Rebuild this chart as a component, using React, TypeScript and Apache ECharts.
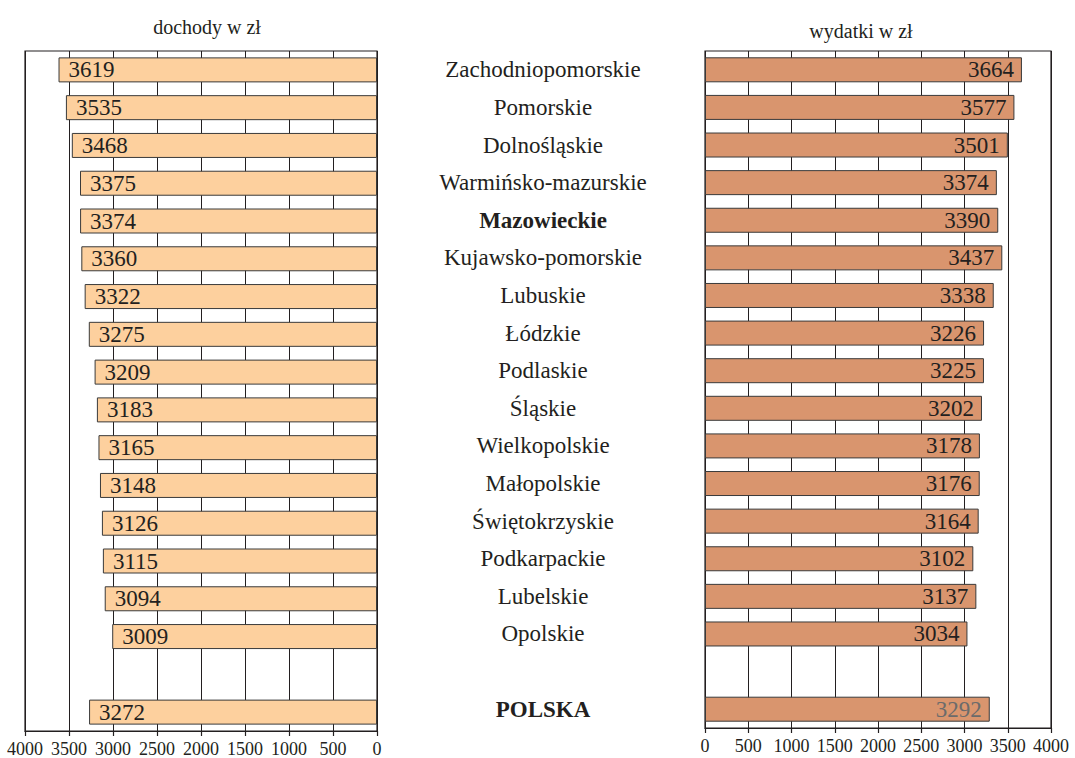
import React, { useEffect, useRef } from "react";
import * as echarts from "echarts";

const regions = [
  "Zachodniopomorskie",
  "Pomorskie",
  "Dolnośląskie",
  "Warmińsko-mazurskie",
  "Mazowieckie",
  "Kujawsko-pomorskie",
  "Lubuskie",
  "Łódzkie",
  "Podlaskie",
  "Śląskie",
  "Wielkopolskie",
  "Małopolskie",
  "Świętokrzyskie",
  "Podkarpackie",
  "Lubelskie",
  "Opolskie",
  "",
  "POLSKA",
];

const incomes = [3619, 3535, 3468, 3375, 3374, 3360, 3322, 3275, 3209, 3183, 3165, 3148, 3126, 3115, 3094, 3009, null, 3272];
const expenses = [3664, 3577, 3501, 3374, 3390, 3437, 3338, 3226, 3225, 3202, 3178, 3176, 3164, 3102, 3137, 3034, null, 3292];

const boldRegions = ["Mazowieckie", "POLSKA"];
const leftTitle = "dochody w zł";
const rightTitle = "wydatki w zł";

const FONT = "'Liberation Serif', 'Times New Roman', serif";
const INK = "#231f20";
const LABEL_SIZE = 23;

export default function App() {
  const ref = useRef<HTMLDivElement>(null);

  useEffect(() => {
    if (!ref.current) return;
    const chart = echarts.init(ref.current, undefined, { renderer: "svg" });

    const xAxisCommon = {
      type: "value" as const,
      min: 0,
      max: 4000,
      interval: 500,
      position: "bottom" as const,
      axisLine: { show: true, onZero: false, lineStyle: { color: INK, width: 1.2 } },
      axisTick: { show: true, inside: false, length: 5, lineStyle: { color: INK, width: 1.2 } },
      splitLine: { show: true, lineStyle: { color: INK, width: 1 } },
      axisLabel: {
        color: INK,
        fontFamily: FONT,
        fontSize: 18,
        margin: 9,
        formatter: (v: number) => String(v),
      },
    };

    chart.setOption({
      animation: false,
      title: [
        {
          text: leftTitle,
          left: 202,
          top: 12,
          textAlign: "center",
          textStyle: { fontFamily: FONT, fontSize: 20, fontWeight: "normal", color: INK },
        },
        {
          text: rightTitle,
          left: 856,
          top: 16,
          textAlign: "center",
          textStyle: { fontFamily: FONT, fontSize: 20, fontWeight: "normal", color: INK },
        },
      ],
      grid: [
        { left: 25, top: 51, width: 352, height: 681, show: true, borderColor: INK, borderWidth: 1.2 },
        { left: 705, top: 51, width: 346, height: 677, show: true, borderColor: INK, borderWidth: 1.2 },
      ],
      xAxis: [
        { ...xAxisCommon, gridIndex: 0, inverse: true },
        { ...xAxisCommon, gridIndex: 1 },
      ],
      yAxis: [
        {
          type: "category",
          gridIndex: 0,
          data: regions,
          inverse: true,
          axisLine: { show: false },
          axisTick: { show: false },
          axisLabel: { show: false },
          splitLine: { show: false },
        },
        {
          type: "category",
          gridIndex: 1,
          data: regions,
          inverse: true,
          axisLine: { show: false },
          axisTick: { show: false },
          splitLine: { show: false },
          axisLabel: {
            show: true,
            align: "center",
            margin: 162,
            fontFamily: FONT,
            fontSize: LABEL_SIZE,
            color: INK,
            formatter: (v: string) => (boldRegions.includes(v) ? `{b|${v}}` : v),
            rich: {
              b: { fontFamily: FONT, fontSize: LABEL_SIZE, fontWeight: "bold", color: INK },
            },
          },
        },
      ],
      series: [
        {
          type: "bar",
          xAxisIndex: 0,
          yAxisIndex: 0,
          data: incomes,
          barWidth: 25,
          itemStyle: { color: "#fdd09e", borderColor: "#3a3a3a", borderWidth: 1 },
          label: {
            show: true,
            position: "insideLeft",
            distance: 10,
            fontFamily: FONT,
            fontSize: LABEL_SIZE,
            color: INK,
          },
        },
        {
          type: "bar",
          xAxisIndex: 1,
          yAxisIndex: 1,
          data: expenses.map((v, i) =>
            regions[i] === "POLSKA"
              ? { value: v, label: { color: "#6b6b6b" } }
              : v
          ),
          barWidth: 25,
          itemStyle: { color: "#d9956e", borderColor: "#3a3a3a", borderWidth: 1 },
          label: {
            show: true,
            position: "insideRight",
            distance: 8,
            fontFamily: FONT,
            fontSize: LABEL_SIZE,
            color: INK,
          },
        },
      ],
    });

    return () => chart.dispose();
  }, []);

  return (
    <div
      ref={ref}
      style={{ position: "fixed", left: 0, top: 0, width: 1075, height: 758, background: "#fff" }}
    />
  );
}
